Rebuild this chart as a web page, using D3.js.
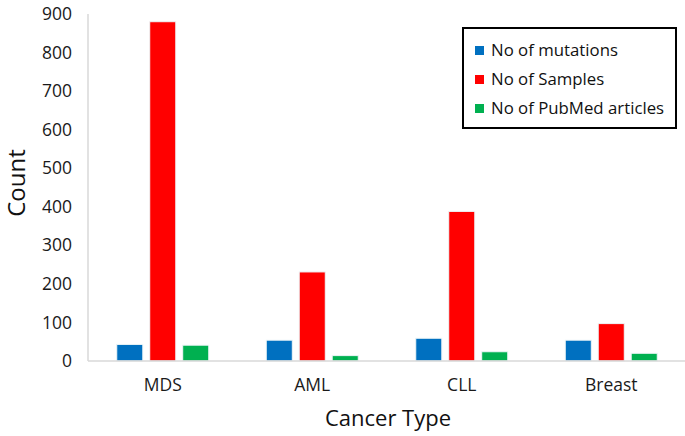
<!DOCTYPE html>
<html><head><meta charset="utf-8">
<script src="https://cdn.jsdelivr.net/npm/d3@7"></script>
<style>body{margin:0;background:#fff}svg{display:block}</style>
</head><body><svg id="c" width="685" height="436"></svg>
<script>
const categories = ["MDS", "AML", "CLL", "Breast"];
const seriesNames = ["No of mutations", "No of Samples", "No of PubMed articles"];
const mutations = [43, 54, 59, 54];
const samples = [880, 231, 388, 97];
const pubmed = [41, 14, 24, 20];
const yTicks = [0, 100, 200, 300, 400, 500, 600, 700, 800, 900];
const colors = ["#0070C0", "#FF0000", "#00B050"];

const seriesValues = [mutations, samples, pubmed];
const svg = d3.select("#c");
const font = "'Open Sans', sans-serif";

const x0 = d3.scaleBand().domain(categories).range([88, 686]);
const x1 = d3.scaleBand().domain(seriesNames).range([-46, 46]).paddingInner(0.21);
const y = d3.scaleLinear().domain([0, 900]).range([361, 14]);

svg.append("line").attr("x1", 88).attr("x2", 88).attr("y1", y(900)).attr("y2", y(0))
  .attr("stroke", "#d9d9d9").attr("stroke-width", 1.5);

const yAxis = d3.axisLeft(y).tickValues(yTicks).tickSize(0).tickPadding(16);
const gy = svg.append("g").attr("transform", "translate(88,0)").call(yAxis);
gy.select(".domain").remove();
gy.selectAll("text").attr("font-family", font).attr("font-size", 17.5).attr("fill", "#1a1a1a");

seriesNames.forEach((s, i) => {
  svg.append("g").selectAll("rect").data(categories).join("rect")
    .attr("x", c => x0(c) + x0.bandwidth() / 2 + x1(s))
    .attr("width", x1.bandwidth())
    .attr("y", (c, j) => y(seriesValues[i][j]))
    .attr("height", (c, j) => y(0) - y(seriesValues[i][j]))
    .attr("fill", colors[i])
    .attr("stroke", "#eef6f8").attr("stroke-width", 1);
});

svg.append("line").attr("x1", 88).attr("x2", 685).attr("y1", y(0)).attr("y2", y(0))
  .attr("stroke", "#d9d9d9").attr("stroke-width", 1.5);

const xAxis = d3.axisBottom(x0).tickSize(0).tickPadding(18);
const gx = svg.append("g").attr("transform", `translate(0,${y(0)})`).call(xAxis);
gx.select(".domain").remove();
gx.selectAll("text").attr("font-family", font).attr("font-size", 17.5).attr("fill", "#1a1a1a");

svg.append("text").attr("x", 388).attr("y", 426).attr("text-anchor", "middle")
  .attr("font-family", font).attr("font-size", 22).attr("fill", "#111").text("Cancer Type");
svg.append("text").attr("transform", "translate(25,183) rotate(-90)").attr("text-anchor", "middle")
  .attr("font-family", font).attr("font-size", 24).attr("fill", "#111").text("Count");

svg.append("rect").attr("x", 463).attr("y", 28).attr("width", 213).attr("height", 100)
  .attr("fill", "#fff").attr("stroke", "#000").attr("stroke-width", 2);
const rowY = [50, 79, 108];
const lg = svg.append("g").selectAll("g").data(seriesNames).join("g")
  .attr("transform", (d, i) => `translate(475,${rowY[i]})`);
lg.append("rect").attr("x", 0).attr("y", -4).attr("width", 9).attr("height", 9)
  .attr("fill", (d, i) => colors[i]);
lg.append("text").attr("x", 16).attr("y", 0).attr("dy", "0.35em")
  .attr("font-family", font).attr("font-size", 16.8).attr("fill", "#111").text(d => d);
</script></body></html>
